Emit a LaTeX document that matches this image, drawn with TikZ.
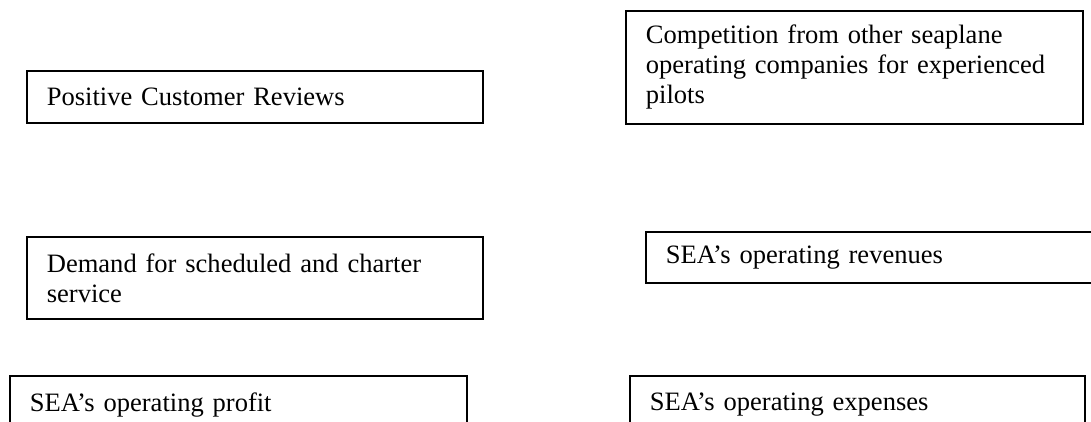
\documentclass[tikz,border=0pt]{standalone}
\usepackage{fontspec}
\setmainfont{Liberation Serif}
\tikzset{
  factor/.style={draw,line width=1pt,rectangle,anchor=north west,align=left,
    inner xsep=0.4cm,inner ysep=0pt,text width=#1,
    font=\fontsize{15.1}{17.1}\selectfont},
}
\begin{document}
\begin{tikzpicture}

%% frame
\useasboundingbox (0,0) rectangle (21.82,8.44);
\clip (0,0) rectangle (21.82,8.44);

%% left column
\node [factor=8.32cm,minimum height=1.04cm] (reviews) at (0.52,7.04) {Positive Customer Reviews};
\node [factor=8.32cm,minimum height=1.64cm] (demand) at (0.52,3.72) {Demand for scheduled and charter\\service};
\node [factor=8.34cm,minimum height=1.16cm] (profit) at (0.18,0.94) {SEA’s operating profit};

%% right column
\node [factor=8.34cm,minimum height=2.26cm] (pilots) at (12.50,8.24) {Competition from other seaplane\\operating companies for experienced\\pilots};
\node [factor=8.40cm,minimum height=1.02cm] (revenues) at (12.90,3.82) {SEA’s operating revenues};
\node [factor=8.30cm,minimum height=1.16cm] (expenses) at (12.58,0.94) {SEA’s operating expenses};

\end{tikzpicture}
\end{document}
